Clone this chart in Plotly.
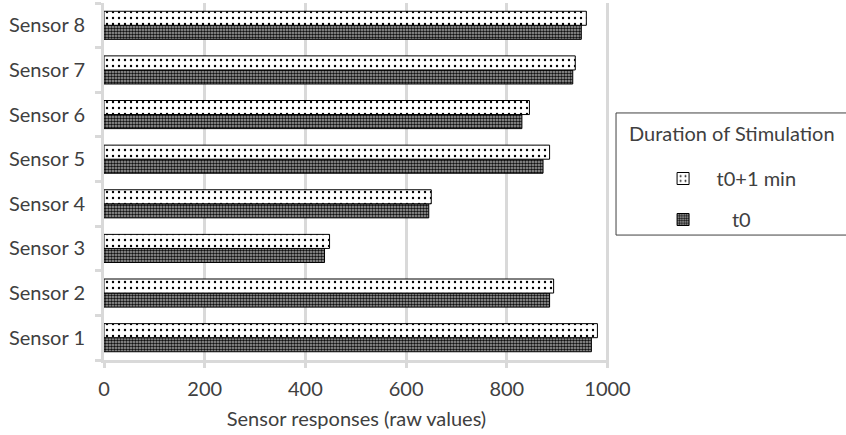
import plotly.graph_objects as go

categories = ["Sensor 1", "Sensor 2", "Sensor 3", "Sensor 4", "Sensor 5", "Sensor 6", "Sensor 7", "Sensor 8"]
t0_values = [968, 885, 438, 645, 872, 830, 931, 948]
t1_values = [980, 893, 448, 650, 885, 845, 936, 958]
x_ticks = [0, 200, 400, 600, 800, 1000]

FONT = "Lato"
GRID = "#d9d9d9"
TXT = "#404040"
FS = 20

fig = go.Figure()
fig.add_trace(go.Bar(
    y=categories, x=t0_values, orientation="h", name="\u00a0\u00a0\u00a0t0",
    legendgroup="b", legendrank=2,
    marker=dict(color="#9a9a9a", line=dict(color="black", width=1),
                pattern=dict(shape=".", size=3, solidity=0.55, fgcolor="#111111",
                             bgcolor="#a8a8a8", fillmode="replace")),
))
fig.add_trace(go.Bar(
    y=categories, x=t1_values, orientation="h", name="t0+1 min",
    legendgroup="a", legendrank=1,
    marker=dict(color="white", line=dict(color="black", width=1),
                pattern=dict(shape=".", size=6, solidity=0.12, fgcolor="black",
                             bgcolor="white", fillmode="replace")),
))

# legend frame and title (frame runs off the right edge as in the original)
fig.add_shape(type="rect", xref="paper", yref="paper",
              x0=1.0139, x1=1.49, y0=0.350, y1=0.692,
              line=dict(color="#404040", width=1), fillcolor="rgba(0,0,0,0)")
fig.add_annotation(text="Duration of Stimulation", xref="paper", yref="paper",
                   x=1.0356, xanchor="left", y=0.636, yanchor="middle",
                   showarrow=False, font=dict(size=FS, color=TXT, family=FONT))

fig.update_layout(
    width=846, height=435,
    margin=dict(l=104, r=237, t=3, b=75, autoexpand=False),
    paper_bgcolor="white", plot_bgcolor="white",
    barmode="group", bargap=0.37, bargroupgap=0,
    font=dict(family=FONT, size=FS, color=TXT),
    showlegend=True,
    legend=dict(
        x=1.015, xanchor="left", y=0.563, yanchor="top",
        borderwidth=0, bgcolor="rgba(0,0,0,0)",
        traceorder="grouped", tracegroupgap=12,
        font=dict(size=FS, color=TXT),
        indentation=33, itemwidth=57,
    ),
    xaxis=dict(
        range=[0, 1003], tickvals=x_ticks, ticktext=[str(v) for v in x_ticks],
        showgrid=True, gridcolor=GRID, gridwidth=3,
        showline=True, linecolor=GRID, linewidth=3,
        ticks="outside", ticklen=5, tickcolor=GRID, tickwidth=3,
        ticklabelstandoff=4, zeroline=False,
        title=dict(text="Sensor responses (raw values)", standoff=13,
                   font=dict(size=FS, color=TXT)),
        tickfont=dict(size=FS, color=TXT),
    ),
    yaxis=dict(
        showgrid=False, showline=True, linecolor=GRID, linewidth=3,
        ticks="outside", ticklen=6, tickcolor=GRID, tickwidth=3,
        tickson="boundaries", ticklabelstandoff=12,
        tickfont=dict(size=FS, color=TXT),
    ),
)

fig.write_html("out.html")
